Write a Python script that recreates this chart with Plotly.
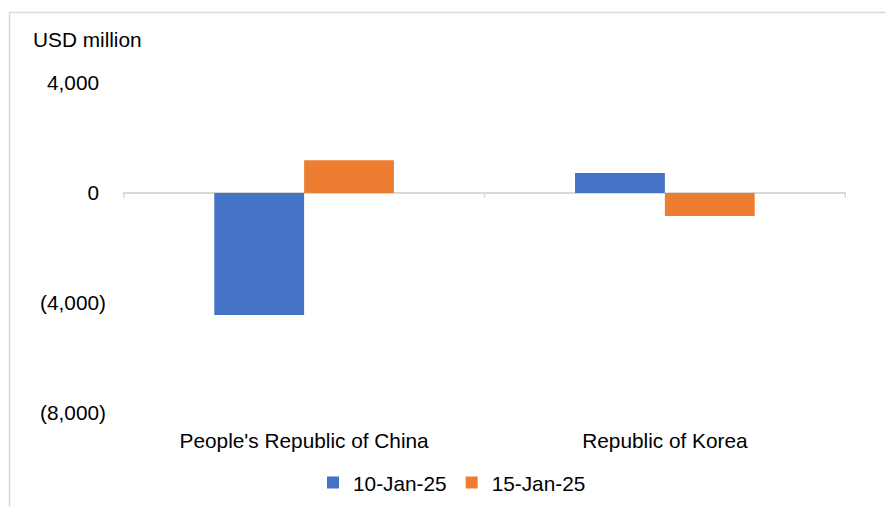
import plotly.graph_objects as go

categories = ["People's Republic of China", "Republic of Korea"]
series_names = ["10-Jan-25", "15-Jan-25"]
values_10jan = [-4440, 730]
values_15jan = [1190, -840]
tick_vals = [4000, 0, -4000, -8000]
tick_text = ["4,000<span style='color:rgba(0,0,0,0)'>)</span>",
             "0<span style='color:rgba(0,0,0,0)'>)</span>", "(4,000)", "(8,000)"]
colors = ["#4472C4", "#ED7D31"]

W, H = 886, 507
L, R, T, B = 123, 40, 83, 94
pw, ph = W - L - R, H - T - B

def px_x(p):
    return (p - L) / pw

def px_y(p):
    return (H - B - p) / ph

FONT = "Liberation Sans, Arial, sans-serif"
fs = 20.8

fig = go.Figure()
for name, vals, c in zip(series_names, [values_10jan, values_15jan], colors):
    fig.add_trace(go.Bar(x=categories, y=vals, name=name, marker=dict(color=c, line=dict(width=0))))

fig.update_layout(
    width=W, height=H,
    margin=dict(l=L, r=R, t=T, b=B, autoexpand=False),
    paper_bgcolor="white", plot_bgcolor="white",
    barmode="group", bargap=0.502, bargroupgap=0,
    font=dict(family=FONT, size=fs, color="#000000"),
    showlegend=True,
    legend=dict(orientation="h", x=px_x(452), xanchor="center", y=px_y(483), yanchor="middle",
                itemwidth=30, font=dict(size=fs), traceorder="normal", tracegroupgap=0,
                bgcolor="rgba(0,0,0,0)"),
    xaxis=dict(showgrid=False, showline=False, zeroline=False, ticks="", ticklabelstandoff=13,
               tickfont=dict(size=fs)),
    yaxis=dict(range=[-8000, 4000], tickvals=tick_vals, ticktext=tick_text, showgrid=False,
               showline=False, zeroline=True, zerolinecolor="#D9D9D9", zerolinewidth=1.5,
               ticks="", ticklabelstandoff=16, tickfont=dict(size=fs)),
)

tick_len = 5 * 12000 / ph
for xv in [-0.5, 0.5, 1.5]:
    fig.add_shape(type="line", xref="x", yref="y", x0=xv, x1=xv, y0=0, y1=-tick_len,
                  line=dict(color="#D9D9D9", width=1.5))

fig.add_shape(type="rect", xref="paper", yref="paper",
              x0=px_x(9.5), x1=px_x(W + 20), y0=px_y(H + 20), y1=px_y(12.5),
              line=dict(color="#D9D9D9", width=1.5), layer="below")

fig.add_annotation(text="USD million", xref="paper", yref="paper", x=px_x(31), y=px_y(40),
                   xanchor="left", yanchor="middle", showarrow=False, font=dict(size=fs))

fig.write_html("out.html")
